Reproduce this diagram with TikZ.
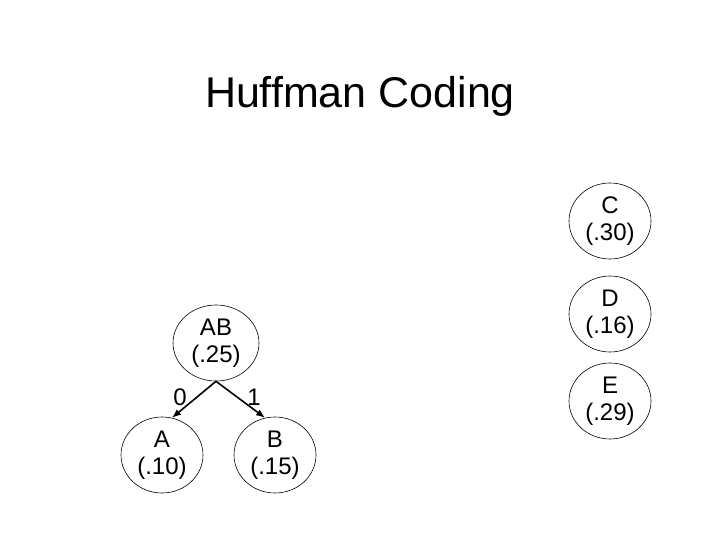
\documentclass[tikz,border=0pt]{standalone}
\usepackage{fontspec}
\setmainfont{Liberation Sans}
\usetikzlibrary{shapes.geometric,arrows.meta}

\begin{document}
\begin{tikzpicture}[x=1pt, y=-1pt,
    freqnode/.style={ellipse, draw=black, line width=0.6pt, inner sep=0pt,
      minimum width=82pt, minimum height=76pt, align=center,
      font=\fontsize{24}{27}\selectfont},
    bitlabel/.style={font=\fontsize{24}{27}\selectfont},
    codearrow/.style={line width=1.6pt, -{Latex[length=9pt, width=7pt]}}]
  \useasboundingbox (0,0) rectangle (720,540);
  \node[anchor=base, font=\fontsize{43}{48}\selectfont] (title) at (360,108) {Huffman Coding};
  % merged pair and its children
  \node[freqnode, minimum width=86pt] (ab) at (216,343) {AB\\(.25)};
  \node[freqnode] (a) at (162,455) {A\\(.10)};
  \node[freqnode] (b) at (275,455) {B\\(.15)};
  % remaining symbols
  \node[freqnode] (c) at (610,221) {C\\(.30)};
  \node[freqnode] (d) at (610,314) {D\\(.16)};
  \node[freqnode] (e) at (610,401) {E\\(.29)};
  \draw[codearrow] (ab.south) -- (a.75);
  \draw[codearrow] (ab.south) -- (b.105);
  \node[bitlabel] (zero) at (180,397) {0};
  \node[bitlabel] (one) at (254,397) {1};
\end{tikzpicture}
\end{document}
